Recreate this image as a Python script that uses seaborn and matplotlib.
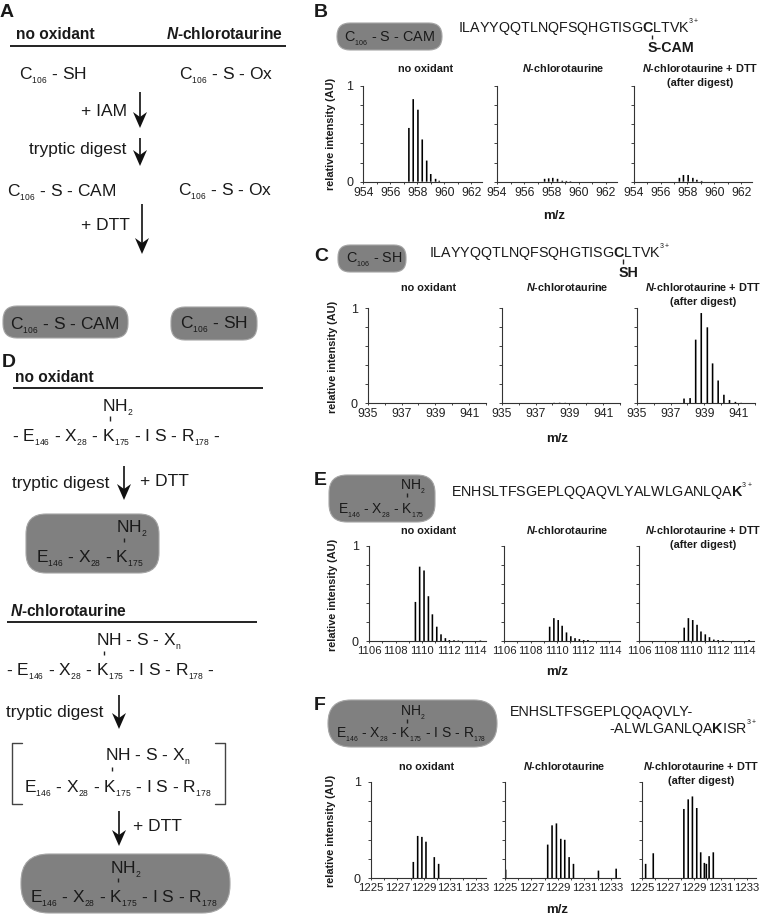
"""
Mass spectra of tryptic peptides with the labelling schemes next to them.
Everything left of the spectra is drawn on one overlay axes in pixel coordinates.
"""

import matplotlib
matplotlib.use("Agg")
import matplotlib.pyplot as plt
import pandas as pd
import seaborn as sns
from matplotlib.patches import FancyBboxPatch, Polygon

W, H = 762, 916

# ---------------------------------------------------------
# Data: m/z and relative intensity
# ---------------------------------------------------------
b_noox_mz = [957.38, 957.7, 958.05, 958.37, 958.7, 959.0, 959.36, 959.63]
b_noox_int = [0.56, 0.86, 0.75, 0.44, 0.22, 0.08, 0.03, 0.01]
b_nct_mz = [957.5, 957.8, 958.1, 958.45, 958.8, 959.1, 959.4]
b_nct_int = [0.03, 0.035, 0.04, 0.03, 0.01, 0.008, 0.005]
b_dtt_mz = [957.4, 957.7, 958.05, 958.4, 958.7, 959.05]
b_dtt_int = [0.04, 0.07, 0.07, 0.04, 0.02, 0.008]

c_noox_mz = []
c_noox_int = []
c_nct_mz = [938.1, 938.43, 938.76, 940.1]
c_nct_int = [0.005, 0.006, 0.005, 0.004]
c_dtt_mz = [937.8, 938.16, 938.49, 938.82, 939.18, 939.49, 939.82, 940.16, 940.49, 940.84, 941.18]
c_dtt_int = [0.05, 0.055, 0.67, 0.95, 0.8, 0.42, 0.24, 0.09, 0.035, 0.015, 0.005]

e_noox_mz = [1109.5, 1109.82, 1110.15, 1110.48, 1110.78, 1111.11, 1111.43, 1111.76, 1112.06, 1112.41, 1112.74, 1114.4]
e_noox_int = [0.41, 0.78, 0.74, 0.47, 0.28, 0.15, 0.07, 0.03, 0.01, 0.008, 0.005, 0.005]
e_nct_mz = [1109.45, 1109.77, 1110.1, 1110.4, 1110.73, 1111.06, 1111.38, 1111.71, 1112.04, 1112.36]
e_nct_int = [0.15, 0.24, 0.22, 0.16, 0.09, 0.05, 0.03, 0.02, 0.01, 0.01]
e_dtt_mz = [1109.45, 1109.77, 1110.1, 1110.43, 1110.73, 1111.06, 1111.38, 1111.71, 1112.04, 1112.41, 1114.4]
e_dtt_int = [0.14, 0.24, 0.22, 0.17, 0.1, 0.07, 0.04, 0.015, 0.01, 0.008, 0.01]

f_noox_mz = [1228.21, 1228.54, 1228.86, 1229.17, 1229.8, 1230.13]
f_noox_int = [0.17, 0.44, 0.43, 0.38, 0.22, 0.15]
f_nct_mz = [1225.05, 1228.23, 1228.56, 1228.89, 1229.22, 1229.52, 1229.85, 1230.18, 1232.07, 1233.41]
f_nct_int = [0.09, 0.35, 0.55, 0.57, 0.41, 0.4, 0.22, 0.15, 0.08, 0.1]
f_dtt_mz = [1225.3, 1225.88, 1228.21, 1228.54, 1228.86, 1229.19, 1229.49, 1229.77, 1229.92, 1230.13, 1230.45]
f_dtt_int = [0.15, 0.26, 0.72, 0.82, 0.85, 0.73, 0.27, 0.16, 0.15, 0.23, 0.27]

b_range = (954, 962.8)
c_range = (935, 942)
e_range = (1106, 1114.8)
f_range = (1225, 1233.7)

NCT = r"$\mathbfit{N}$-chlorotaurine"
NCT_DTT = NCT + " + DTT"
CAM = "C$_{_{106}}$ - S - CAM"
CSH = "C$_{_{106}}$ - SH"
COX = "C$_{_{106}}$ - S - Ox"
NH2 = "NH$_{_2}$"
NHS = "NH - S - X$_{_n}$"
SHORT = "E$_{_{146}}$ - X$_{_{28}}$ - K$_{_{175}}$"
LONG = SHORT + " - I S - R$_{_{178}}$"
MAIN = 12.5

sns.set_theme(style="ticks")
plt.rcParams["font.family"] = ["Liberation Sans", "DejaVu Sans"]
plt.rcParams["mathtext.fontset"] = "custom"
plt.rcParams["mathtext.rm"] = "Liberation Sans"
plt.rcParams["mathtext.bf"] = "Liberation Sans:bold"
plt.rcParams["mathtext.bfit"] = "Liberation Sans:italic:bold"
plt.rcParams["mathtext.default"] = "regular"

fig = plt.figure(figsize=(W / 100, H / 100), dpi=100)
fig.patch.set_facecolor("white")

# overlay in pixel coordinates for schemes and labels
ov = fig.add_axes([0, 0, 1, 1])
ov.set_xlim(0, W)
ov.set_ylim(H, 0)
ov.axis("off")

INK = "#1a1a1a"


def label(x, y, s, size=MAIN, weight="normal", ha="left", rotation=0, **kw):
    # y is the middle of the capitals, text sits on its baseline
    if rotation:
        ov.text(x, y, s, fontsize=size, fontweight=weight, ha="center", va="center",
                rotation=rotation, color=INK, **kw)
    else:
        ov.text(x, y + 0.36 * size * 100 / 72, s, fontsize=size, fontweight=weight,
                ha=ha, va="baseline", color=INK, **kw)


def rule(x0, x1, y):
    ov.plot([x0, x1], [y, y], color="#111111", lw=1.3, solid_capstyle="butt")


def bond(x, y0, y1):
    ov.plot([x, x], [y0, y1], color="#222222", lw=1.0, solid_capstyle="butt")


def arrow(x, y0, y1):
    ov.plot([x, x], [y0, y1 - 8], color="#111111", lw=1.2, solid_capstyle="butt")
    ov.add_patch(Polygon([(x - 7, y1 - 16), (x, y1 - 11), (x + 7, y1 - 16), (x, y1)],
                         closed=True, fc="#111111", ec="none"))


def pill(x0, x1, y0, y1, r):
    ov.add_patch(FancyBboxPatch((x0, y0), x1 - x0, y1 - y0,
                                boxstyle=f"round,pad=0,rounding_size={r}",
                                fc="#808080", ec="#a5a5a5", lw=0.8))


def bracket(x0, x1, y0, y1):
    ov.plot([x1, x0, x0, x1], [y0, y0, y1, y1], color="#444444", lw=1.0)


# ---------------------------------------------------------
# Panel A
# ---------------------------------------------------------
label(0, 10, "A", size=14, weight="bold")
label(16, 33, "no oxidant", size=11.2, weight="bold")
label(166, 33, NCT, size=11.2, weight="bold")
rule(10, 286, 46)
label(19, 73, CSH)
label(179, 73, COX)
arrow(140, 92, 128)
label(127, 110, "+ IAM", ha="right")
arrow(140, 138, 166)
label(126, 148, "tryptic digest", ha="right")
label(7, 190, CAM)
label(178, 189, COX)
arrow(142, 204, 254)
label(130, 224, "+ DTT", ha="right")
pill(3, 128, 306, 338, 14)
label(10, 323, CAM)
pill(171, 257, 307, 340, 14)
label(180, 322, CSH)

# ---------------------------------------------------------
# Panel D
# ---------------------------------------------------------
label(2, 360, "D", size=14, weight="bold")
label(15, 376, "no oxidant", size=11.2, weight="bold")
rule(13, 263, 388)
label(102, 405, NH2)
bond(110, 416, 421)
label(12, 435, "- " + LONG + " -")
arrow(124, 466, 500)
label(12, 482, "tryptic digest")
label(140, 480, "+ DTT")
pill(26, 159, 514, 573, 20)
label(116, 526, NH2)
bond(123.5, 538, 542)
label(36, 556, SHORT)

label(10, 610, NCT, size=11.2, weight="bold")
rule(7, 257, 622)
label(96, 639, NHS)
bond(104, 651, 655)
label(6, 669, "- " + LONG + " -")
arrow(119, 695, 729)
label(6, 711, "tryptic digest")
bracket(12, 22, 743, 804)
bracket(225, 215, 743, 804)
label(105, 754, NHS)
bond(112, 767, 771)
label(24, 786, LONG)
arrow(119, 811, 846)
label(133, 825, "+ DTT")
pill(21, 230, 854, 913, 28)
label(110, 867, NH2)
bond(117.5, 878, 882)
label(30, 896, LONG)

# ---------------------------------------------------------
# Headers of the spectra rows
# ---------------------------------------------------------
SEQ_CYS = r"ILAYYQQTLNQFSQHGTISG$\mathbf{C}$LTVK$^{^{3+}}$"
label(314, 10, "B", size=14, weight="bold")
pill(337, 442, 23, 50, 13)
label(344, 37, CAM, size=10.4)
label(458, 28, SEQ_CYS, size=10.3)
bond(652, 35, 39)
label(648, 47, "S-CAM", size=10.3, weight="bold")

label(314, 254, "C", size=14, weight="bold")
pill(338, 406, 245, 272, 12)
label(346, 258, CSH, size=10.4)
label(429, 253, SEQ_CYS, size=10.3)
bond(623, 259, 264)
label(619, 272, "SH", size=10.3, weight="bold")

label(314, 478, "E", size=14, weight="bold")
pill(329, 435, 475, 522, 18)
label(400, 485, NH2, size=10)
bond(407, 493, 497)
label(338, 509, SHORT, size=10)
label(451, 492, r"ENHSLTFSGEPLQQAQVLYALWLGANLQA$\mathbf{K}$$^{^{3+}}$", size=10.3)

label(314, 703, "F", size=14, weight="bold")
pill(328, 497, 700, 747, 23)
label(400, 711, NH2, size=10)
bond(407, 719, 723)
label(336, 733, LONG, size=10)
label(510, 711, "ENHSLTFSGEPLQQAQVLY-", size=10.3)
label(757, 729, r"-ALWLGANLQA$\mathbf{K}$ISR$^{^{3+}}$", size=10.3, ha="right")


# ---------------------------------------------------------
# Spectra
# ---------------------------------------------------------
def spectrum(left, right, top, bottom, xrange, mz, intensity, ylabels):
    ax = fig.add_axes([left / W, 1 - bottom / H, (right - left) / W, (bottom - top) / H])
    ax.patch.set_alpha(0)
    px_per_unit = (right - left) / (xrange[1] - xrange[0])
    if len(mz) > 0:
        df = pd.DataFrame({"mz": mz, "intensity": intensity})
        spacing = df["mz"].sort_values().diff().min()
        sns.barplot(data=df, x="mz", y="intensity", native_scale=True, orient="x",
                    width=1.6 / px_per_unit / spacing, color="black", saturation=1,
                    linewidth=0, errorbar=None, ax=ax)
        for bar in ax.patches:
            bar.set_snap(False)
    ax.set_xlim(*xrange)
    ax.set_ylim(0, 1)
    ax.set_xlabel("")
    ax.set_ylabel("")
    start = int(xrange[0])
    ticks = list(range(start, int(xrange[1]) + 1))
    ax.set_xticks(ticks)
    ax.set_xticklabels([str(t) if (t - start) % 2 == 0 else "" for t in ticks])
    ax.set_yticks([0, 0.2, 0.4, 0.6, 0.8, 1])
    ax.set_yticklabels(["0", "", "", "", "", "1"] if ylabels else [""] * 6)
    xsize = 8.7 if start < 1000 else 8.1  # four digit labels nearly touch
    ax.tick_params(axis="x", length=1.5, width=0.6, pad=2, labelsize=xsize, colors="#222222")
    ax.tick_params(axis="y", length=2.2, width=0.6, pad=5, labelsize=9, colors="#222222")
    sns.despine(ax=ax)
    for side in ["left", "bottom"]:
        ax.spines[side].set_linewidth(0.8)
        ax.spines[side].set_color("#333333")
    return ax


rows = [
    dict(lefts=[363.3, 497, 633.7], rights=[482, 616.7, 752], top=85.7, bottom=181.7, xr=b_range,
         data=[(b_noox_mz, b_noox_int), (b_nct_mz, b_nct_int), (b_dtt_mz, b_dtt_int)],
         tx=[426, 563, 700], ty=68, ylx=331, yly=134, mzx=554, mzy=214),
    dict(lefts=[367.7, 501.7, 636.7], rights=[486, 620, 755], top=308.3, bottom=403.3, xr=c_range,
         data=[(c_noox_mz, c_noox_int), (c_nct_mz, c_nct_int), (c_dtt_mz, c_dtt_int)],
         tx=[429, 567, 703], ty=287, ylx=333, yly=357, mzx=557, mzy=437),
    dict(lefts=[369, 504.3, 639], rights=[485.7, 620, 754.3], top=545.7, bottom=641, xr=e_range,
         data=[(e_noox_mz, e_noox_int), (e_nct_mz, e_nct_int), (e_dtt_mz, e_dtt_int)],
         tx=[429, 567, 703], ty=530, ylx=333, yly=595, mzx=557, mzy=670),
    dict(lefts=[371, 505, 641.7], rights=[485.7, 620, 756], top=782, bottom=878.3, xr=f_range,
         data=[(f_noox_mz, f_noox_int), (f_nct_mz, f_nct_int), (f_dtt_mz, f_dtt_int)],
         tx=[427, 564, 701], ty=766, ylx=331, yly=831, mzx=557, mzy=908),
]

for row in rows:
    for i, (mz, intensity) in enumerate(row["data"]):
        spectrum(row["lefts"][i], row["rights"][i], row["top"], row["bottom"], row["xr"],
                 mz, intensity, ylabels=(i == 0))
    label(row["tx"][0], row["ty"], "no oxidant", size=7.8, weight="bold", ha="center")
    label(row["tx"][1], row["ty"], NCT, size=7.8, weight="bold", ha="center")
    label(row["tx"][2], row["ty"], NCT_DTT, size=7.8, weight="bold", ha="center")
    label(row["tx"][2], row["ty"] + 14.5, "(after digest)", size=7.8, weight="bold", ha="center")
    label(row["ylx"], row["yly"], "relative intensity (AU)", size=7.8, weight="bold", rotation=90)
    label(row["mzx"], row["mzy"], "m/z", size=9.5, weight="bold", ha="center")

fig.savefig("out.png", dpi=100)
plt.close(fig)
